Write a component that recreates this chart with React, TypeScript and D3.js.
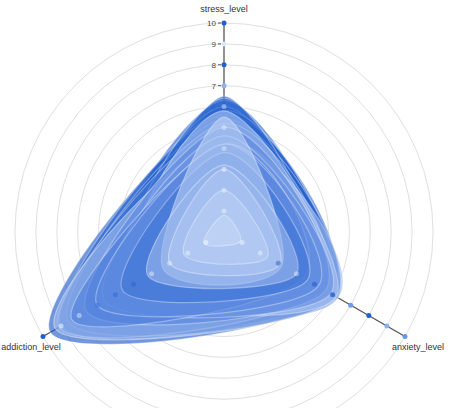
import React, { useEffect, useRef } from 'react';
import * as d3 from 'd3';

// axes of the radar, clockwise from the top
const axes = ['stress_level', 'anxiety_level', 'addiction_level'];
const levels = [1, 2, 3, 4, 5, 6, 7, 8, 9, 10];

// one entry per series (same index across the three arrays)
const stressValues = [6.5, 6.3, 6.0, 5.6, 5.8, 5.4, 6.4, 5.2, 4.4, 5.8, 5.0, 4.6, 4.2, 4.2, 3.8, 5.5, 3.2, 3.0, 2.0, 0.8];
const anxietyValues = [4.6, 6.1, 6.3, 6.0, 5.8, 6.2, 5.4, 5.5, 6.3, 6.2, 5.6, 5.9, 4.4, 5.2, 4.6, 3.2, 4.0, 3.1, 2.4, 0.9];
const addictionValues = [5.2, 7.0, 6.6, 9.6, 9.0, 8.6, 6.0, 9.1, 9.3, 5.4, 7.6, 6.6, 8.4, 7.0, 5.6, 3.4, 4.2, 3.0, 2.2, 1.1];

const seriesColors = [
  '#1a55c6', '#1c58c8', '#1f5bcb', '#1a55c6', '#2360cd', '#2563cf', '#2f6bd3',
  '#4579d9', '#a4bfef', '#aac4f2', '#5a88de', '#6690e2', '#4f80db', '#5d8ae0',
  '#3f74d6', '#bcd0f5', '#9ab7ee', '#aec6f2', '#b7cdf4', '#c4d6f6',
];

// marker colours per axis, level 1..10
const dotColors = [
  ['rgba(255,255,255,0.4)', 'rgba(255,255,255,0.4)', 'rgba(255,255,255,0.45)', 'rgba(255,255,255,0.35)', 'rgba(255,255,255,0.35)', 'rgba(255,255,255,0.4)', '#8eb2ee', '#1f5fd6', '#dfe8fa', '#1f5fd6'],
  ['rgba(255,255,255,0.45)', 'rgba(255,255,255,0.4)', 'rgba(60,110,210,0.6)', 'rgba(255,255,255,0.4)', 'rgba(50,100,210,0.7)', 'rgba(40,95,205,0.8)', '#6f9be8', '#1f5fd6', '#8ab0ee', '#6a98e6'],
  ['rgba(255,255,255,0.45)', 'rgba(255,255,255,0.4)', 'rgba(255,255,255,0.4)', 'rgba(255,255,255,0.4)', 'rgba(50,100,210,0.6)', 'rgba(60,110,215,0.7)', 'rgba(70,120,220,0.7)', 'rgba(255,255,255,0.4)', 'rgba(255,255,255,0.5)', '#1f5fd6'],
];

const width = 450;
const height = 408;
const cx = 224;
const cy = 232;
const radius = 209;

const App: React.FC = () => {
  const svgRef = useRef<SVGSVGElement | null>(null);

  useEffect(() => {
    if (!svgRef.current) return;
    const svg = d3.select(svgRef.current);
    svg.selectAll('*').remove();

    const r = d3.scaleLinear().domain([0, 10]).range([0, radius]);
    const angle = d3.scaleBand<string>().domain(axes).range([0, 2 * Math.PI]);
    const px = (a: string, v: number) => r(v) * Math.sin(angle(a)!);
    const py = (a: string, v: number) => -r(v) * Math.cos(angle(a)!);

    const g = svg.append('g').attr('transform', `translate(${cx},${cy})`);

    // grid circles
    g.selectAll('circle.grid')
      .data(levels)
      .enter()
      .append('circle')
      .attr('class', 'grid')
      .attr('r', d => r(d))
      .attr('fill', 'none')
      .attr('stroke', '#e0e0e0')
      .attr('stroke-width', 1);

    // axis lines
    g.selectAll('line.axis')
      .data(axes)
      .enter()
      .append('line')
      .attr('x1', 0)
      .attr('y1', 0)
      .attr('x2', d => px(d, 10))
      .attr('y2', d => py(d, 10))
      .attr('stroke', '#555')
      .attr('stroke-width', 1.3);

    // ticks on the stress axis
    const ticks = g.append('g');
    ticks.selectAll('line')
      .data(levels)
      .enter()
      .append('line')
      .attr('x1', -6)
      .attr('x2', -3)
      .attr('y1', d => -r(d))
      .attr('y2', d => -r(d))
      .attr('stroke', '#555');
    ticks.selectAll('text')
      .data(levels)
      .enter()
      .append('text')
      .attr('x', -8)
      .attr('y', d => -r(d))
      .attr('dy', '0.35em')
      .attr('text-anchor', 'end')
      .style('font-family', 'Liberation Sans, Arial, sans-serif')
      .style('font-size', '8px')
      .attr('fill', '#444')
      .text(d => d);

    // series shapes
    const series = stressValues.map((s, i) => [s, anxietyValues[i], addictionValues[i]]);
    const line = d3.lineRadial<number>()
      .angle((_, j) => angle(axes[j])!)
      .radius(d => r(d))
      .curve(d3.curveCardinalClosed);

    g.selectAll('path.series')
      .data(series)
      .enter()
      .append('path')
      .attr('class', 'series')
      .attr('d', d => line(d))
      .attr('fill', (_, i) => seriesColors[i])
      .attr('fill-opacity', 0.62)
      .attr('stroke', '#fff')
      .attr('stroke-opacity', 0.35)
      .attr('stroke-width', 1.2);

    // level markers on each axis
    axes.forEach((a, ai) => {
      g.selectAll(`circle.dot${ai}`)
        .data(levels)
        .enter()
        .append('circle')
        .attr('cx', d => px(a, d))
        .attr('cy', d => py(a, d))
        .attr('r', 2.5)
        .attr('fill', (_, li) => dotColors[ai][li]);
    });

    // axis labels
    const labelPos: [number, number][] = [
      [0, -220],
      [px(axes[1], 10) + 13, py(axes[1], 10) + 13],
      [px(axes[2], 10) - 12, py(axes[2], 10) + 13],
    ];
    g.selectAll('text.label')
      .data(axes)
      .enter()
      .append('text')
      .attr('class', 'label')
      .attr('x', (_, i) => labelPos[i][0])
      .attr('y', (_, i) => labelPos[i][1])
      .attr('text-anchor', 'middle')
      .style('font-family', 'Liberation Sans, Arial, sans-serif')
      .style('font-size', '9px')
      .attr('fill', '#333')
      .text(d => d);
  }, []);

  return (
    <svg
      ref={svgRef}
      width={width}
      height={height}
      style={{ position: 'absolute', left: 0, top: 0, background: '#fff' }}
    />
  );
};

export default App;
